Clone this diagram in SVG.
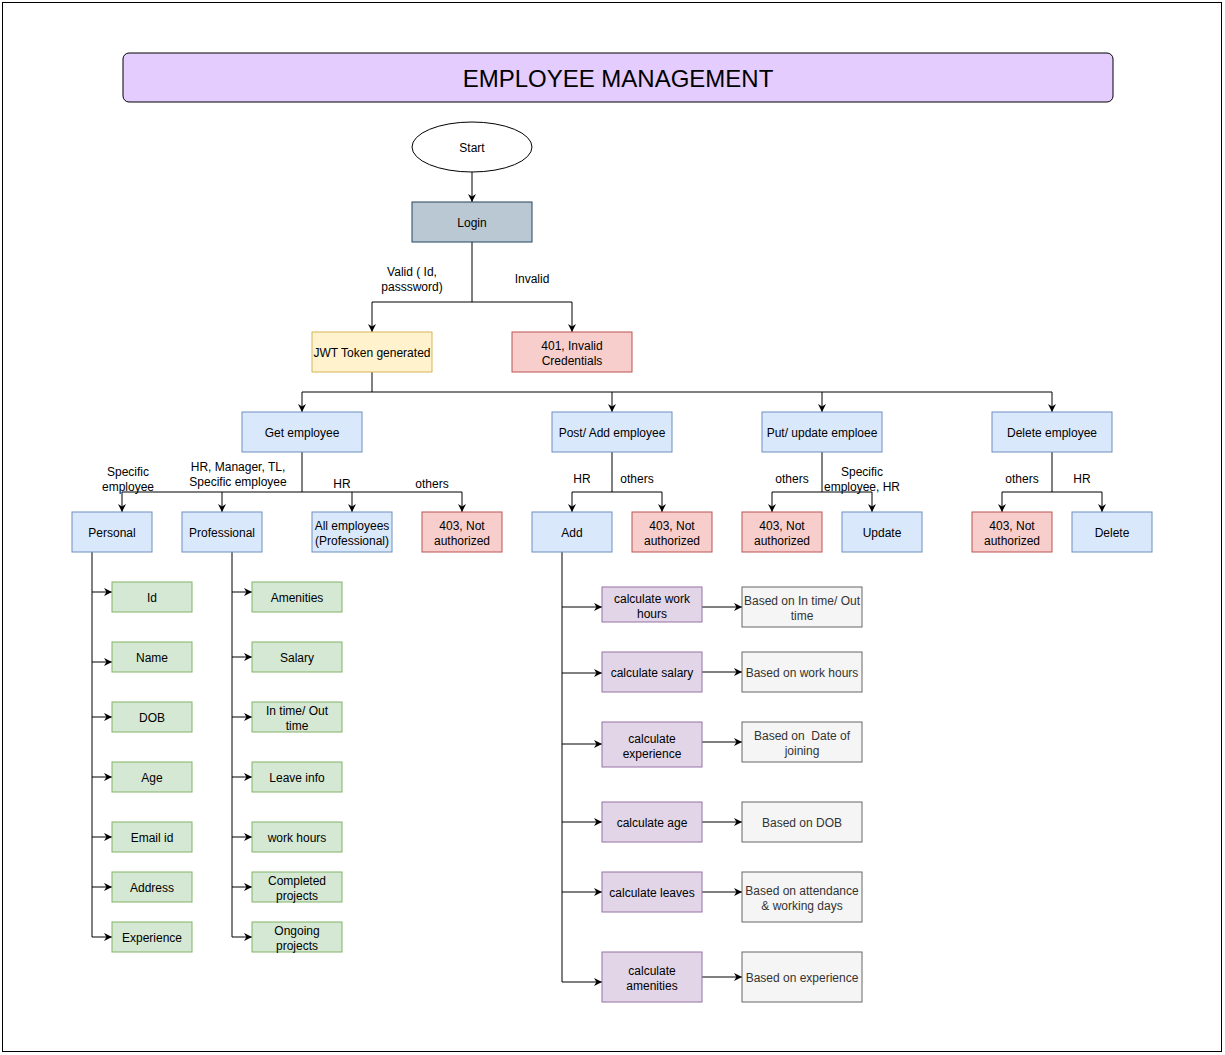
<svg xmlns="http://www.w3.org/2000/svg" width="1225" height="1055" viewBox="0 0 1225 1055">
<style>
text{font-family:"Liberation Sans",Arial,sans-serif;font-size:12px;fill:#000;text-anchor:middle;transform:translateY(1px)}
.t{font-size:24px}
.g text,.gray text{fill:#333}
.blue{fill:#dae8fc;stroke:#6c8ebf}
.green{fill:#d5e8d4;stroke:#82b366}
.purple{fill:#e1d5e7;stroke:#9673a6}
.grayb{fill:#f5f5f5;stroke:#666}
.red{fill:#f8cecc;stroke:#b85450}
.yellow{fill:#fff2cc;stroke:#d6b656}
.c{fill:none;stroke:#000;stroke-width:1}
.a{fill:none;stroke:#000;stroke-width:1;marker-end:url(#arr)}
</style>
<defs>
<marker id="arr" viewBox="0 0 10 10" refX="10" refY="5" markerWidth="8" markerHeight="8" markerUnits="userSpaceOnUse" orient="auto">
<path d="M0,0 L10,5 L0,10 L3,5 z" fill="#000"/>
</marker>
</defs>
<rect x="0" y="0" width="1225" height="1055" fill="#fff"/>
<rect x="2.5" y="2.5" width="1219" height="1049" fill="none" stroke="#000"/>

<g id="title"><rect x="123" y="53" width="990" height="49" rx="6" fill="#e5ccff" stroke="#000"/><text class="t" x="618" y="86">EMPLOYEE MANAGEMENT</text></g>

<g id="connectors">
<line class="a" x1="472" y1="172" x2="472" y2="202"/>
<path class="c" d="M472,242 V302 M372,302 H572"/>
<path class="a" d="M372,302 V332"/>
<path class="a" d="M572,302 V332"/>
<path class="c" d="M372,372 V392 M302,392 H1052"/>
<path class="a" d="M302,392 V412"/>
<path class="a" d="M612,392 V412"/>
<path class="a" d="M822,392 V412"/>
<path class="a" d="M1052,392 V412"/>
<path class="c" d="M302,452 V492 M122,492 H462"/>
<path class="a" d="M122,492 V512"/>
<path class="a" d="M222,492 V512"/>
<path class="a" d="M352,492 V512"/>
<path class="a" d="M462,492 V512"/>
<path class="c" d="M612,452 V492 M572,492 H662"/>
<path class="a" d="M572,492 V512"/>
<path class="a" d="M662,492 V512"/>
<path class="c" d="M822,452 V492 M772,492 H872"/>
<path class="a" d="M772,492 V512"/>
<path class="a" d="M872,492 V512"/>
<path class="c" d="M1052,452 V492 M1002,492 H1102"/>
<path class="a" d="M1002,492 V512"/>
<path class="a" d="M1102,492 V512"/>
<path class="c" d="M92,552 V937"/>
<path class="a" d="M92,592 H112"/>
<path class="a" d="M92,662 H112"/>
<path class="a" d="M92,717 H112"/>
<path class="a" d="M92,777 H112"/>
<path class="a" d="M92,837 H112"/>
<path class="a" d="M92,887 H112"/>
<path class="a" d="M92,937 H112"/>
<path class="c" d="M232,552 V937"/>
<path class="a" d="M232,592 H252"/>
<path class="a" d="M232,657 H252"/>
<path class="a" d="M232,717 H252"/>
<path class="a" d="M232,777 H252"/>
<path class="a" d="M232,837 H252"/>
<path class="a" d="M232,887 H252"/>
<path class="a" d="M232,937 H252"/>
<path class="c" d="M562,552 V982"/>
<path class="a" d="M562,607 H602"/>
<path class="a" d="M562,673 H602"/>
<path class="a" d="M562,744 H602"/>
<path class="a" d="M562,822 H602"/>
<path class="a" d="M562,892 H602"/>
<path class="a" d="M562,982 H602"/>
<path class="a" d="M702,607 H742"/>
<path class="a" d="M702,672 H742"/>
<path class="a" d="M702,742 H742"/>
<path class="a" d="M702,822 H742"/>
<path class="a" d="M702,892 H742"/>
<path class="a" d="M702,977 H742"/>
</g>

<g id="edge-labels">
<text x="412" y="275">Valid ( Id,</text><text x="412" y="290">passsword)</text>
<text x="532" y="282">Invalid</text>
<text x="128" y="475">Specific</text><text x="128" y="490">employee</text>
<text x="238" y="470">HR, Manager, TL,</text><text x="238" y="485">Specific employee</text>
<text x="342" y="487">HR</text>
<text x="432" y="487">others</text>
<text x="582" y="482">HR</text>
<text x="637" y="482">others</text>
<text x="792" y="482">others</text>
<text x="862" y="475">Specific</text><text x="862" y="490">employee, HR</text>
<text x="1022" y="482">others</text>
<text x="1082" y="482">HR</text>
</g>

<g id="start"><ellipse cx="472" cy="147" rx="60" ry="25" fill="#fff" stroke="#000"/><text x="472" y="151">Start</text></g>
<g id="login"><rect x="412" y="202" width="120" height="40" fill="#bac8d3" stroke="#23445d"/><text x="472" y="226">Login</text></g>
<g id="jwt"><rect class="yellow" x="312" y="332" width="120" height="40"/><text x="372" y="356">JWT Token generated</text></g>
<g id="invalid"><rect class="red" x="512" y="332" width="120" height="40"/><text x="572" y="349">401, Invalid</text><text x="572" y="364">Credentials</text></g>

<g id="get"><rect class="blue" x="242" y="412" width="120" height="40"/><text x="302" y="436">Get employee</text></g>
<g id="post"><rect class="blue" x="552" y="412" width="120" height="40"/><text x="612" y="436">Post/ Add employee</text></g>
<g id="put"><rect class="blue" x="762" y="412" width="120" height="40"/><text x="822" y="436">Put/ update emploee</text></g>
<g id="del"><rect class="blue" x="992" y="412" width="120" height="40"/><text x="1052" y="436">Delete employee</text></g>

<g id="personal"><rect class="blue" x="72" y="512" width="80" height="40"/><text x="112" y="536">Personal</text></g>
<g id="professional"><rect class="blue" x="182" y="512" width="80" height="40"/><text x="222" y="536">Professional</text></g>
<g id="allemp"><rect class="blue" x="312" y="512" width="80" height="40"/><text x="352" y="529">All employees</text><text x="352" y="544">(Professional)</text></g>
<g id="na1"><rect class="red" x="422" y="512" width="80" height="40"/><text x="462" y="529">403, Not</text><text x="462" y="544">authorized</text></g>
<g id="add"><rect class="blue" x="532" y="512" width="80" height="40"/><text x="572" y="536">Add</text></g>
<g id="na2"><rect class="red" x="632" y="512" width="80" height="40"/><text x="672" y="529">403, Not</text><text x="672" y="544">authorized</text></g>
<g id="na3"><rect class="red" x="742" y="512" width="80" height="40"/><text x="782" y="529">403, Not</text><text x="782" y="544">authorized</text></g>
<g id="update"><rect class="blue" x="842" y="512" width="80" height="40"/><text x="882" y="536">Update</text></g>
<g id="na4"><rect class="red" x="972" y="512" width="80" height="40"/><text x="1012" y="529">403, Not</text><text x="1012" y="544">authorized</text></g>
<g id="delete"><rect class="blue" x="1072" y="512" width="80" height="40"/><text x="1112" y="536">Delete</text></g>

<g id="p-id"><rect class="green" x="112" y="582" width="80" height="30"/><text x="152" y="601">Id</text></g>
<g id="p-name"><rect class="green" x="112" y="642" width="80" height="30"/><text x="152" y="661">Name</text></g>
<g id="p-dob"><rect class="green" x="112" y="702" width="80" height="30"/><text x="152" y="721">DOB</text></g>
<g id="p-age"><rect class="green" x="112" y="762" width="80" height="30"/><text x="152" y="781">Age</text></g>
<g id="p-email"><rect class="green" x="112" y="822" width="80" height="30"/><text x="152" y="841">Email id</text></g>
<g id="p-address"><rect class="green" x="112" y="872" width="80" height="30"/><text x="152" y="891">Address</text></g>
<g id="p-exp"><rect class="green" x="112" y="922" width="80" height="30"/><text x="152" y="941">Experience</text></g>

<g id="q-amen"><rect class="green" x="252" y="582" width="90" height="30"/><text x="297" y="601">Amenities</text></g>
<g id="q-salary"><rect class="green" x="252" y="642" width="90" height="30"/><text x="297" y="661">Salary</text></g>
<g id="q-intime"><rect class="green" x="252" y="702" width="90" height="30"/><text x="297" y="714">In time/ Out</text><text x="297" y="729">time</text></g>
<g id="q-leave"><rect class="green" x="252" y="762" width="90" height="30"/><text x="297" y="781">Leave info</text></g>
<g id="q-work"><rect class="green" x="252" y="822" width="90" height="30"/><text x="297" y="841">work hours</text></g>
<g id="q-comp"><rect class="green" x="252" y="872" width="90" height="30"/><text x="297" y="884">Completed</text><text x="297" y="899">projects</text></g>
<g id="q-ongo"><rect class="green" x="252" y="922" width="90" height="30"/><text x="297" y="934">Ongoing</text><text x="297" y="949">projects</text></g>

<g id="c-work"><rect class="purple" x="602" y="587" width="100" height="35"/><text x="652" y="602">calculate work</text><text x="652" y="617">hours</text></g>
<g id="c-salary"><rect class="purple" x="602" y="652" width="100" height="40"/><text x="652" y="676">calculate salary</text></g>
<g id="c-exp"><rect class="purple" x="602" y="722" width="100" height="45"/><text x="652" y="742">calculate</text><text x="652" y="757">experience</text></g>
<g id="c-age"><rect class="purple" x="602" y="802" width="100" height="40"/><text x="652" y="826">calculate age</text></g>
<g id="c-leaves"><rect class="purple" x="602" y="872" width="100" height="40"/><text x="652" y="896">calculate leaves</text></g>
<g id="c-amen"><rect class="purple" x="602" y="952" width="100" height="50"/><text x="652" y="974">calculate</text><text x="652" y="989">amenities</text></g>

<g id="b-time" class="gray"><rect class="grayb" x="742" y="587" width="120" height="40"/><text x="802" y="604">Based on In time/ Out</text><text x="802" y="619">time</text></g>
<g id="b-work" class="gray"><rect class="grayb" x="742" y="652" width="120" height="40"/><text x="802" y="676">Based on work hours</text></g>
<g id="b-doj" class="gray"><rect class="grayb" x="742" y="722" width="120" height="40"/><text x="802" y="739" xml:space="preserve">Based on  Date of</text><text x="802" y="754">joining</text></g>
<g id="b-dob" class="gray"><rect class="grayb" x="742" y="802" width="120" height="40"/><text x="802" y="826">Based on DOB</text></g>
<g id="b-att" class="gray"><rect class="grayb" x="742" y="872" width="120" height="50"/><text x="802" y="894">Based on attendance</text><text x="802" y="909">&amp; working days</text></g>
<g id="b-exp" class="gray"><rect class="grayb" x="742" y="952" width="120" height="50"/><text x="802" y="981">Based on experience</text></g>
</svg>
